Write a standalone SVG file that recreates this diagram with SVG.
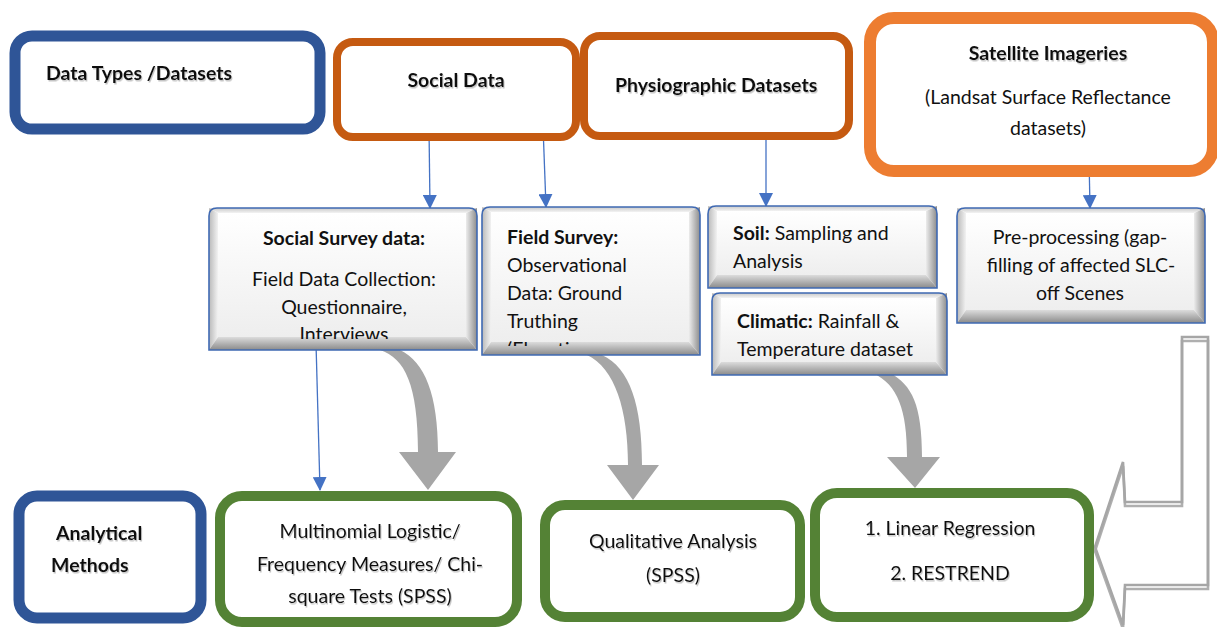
<svg xmlns="http://www.w3.org/2000/svg" width="1217" height="627" viewBox="0 0 1217 627">
  <style>
    text { font-family: Lato, "Noto Sans", "Liberation Sans", sans-serif; font-size: 19.5px; fill: #111; }
    .b { font-weight: bold; }
    .c { text-anchor: middle; }
    .sh { filter: url(#txtShadow); }
    .frame { fill: #fff; }
    .navy { stroke: #2F5597; stroke-width: 11; }
    .rust { stroke: #C55A11; stroke-width: 8; }
    .amber { stroke: #ED7D31; stroke-width: 12; }
    .green { stroke: #548235; stroke-width: 10; }
    .edge { fill: none; stroke: #3F69B3; stroke-width: 1.6; }
    .link { stroke: #4472C4; stroke-width: 1.3; fill: none; marker-end: url(#tri); }
    .curl { fill: #A6A6A6; }
    .uturn { fill: none; stroke: #A6A6A6; stroke-width: 2.6; stroke-linejoin: miter; }
  </style>
  <defs>
    <filter id="txtShadow" x="-10%" y="-30%" width="120%" height="160%">
      <feDropShadow dx="1" dy="1.5" stdDeviation="0.7" flood-color="#7f7f7f" flood-opacity="0.45"/>
    </filter>
    <marker id="tri" markerUnits="userSpaceOnUse" markerWidth="14" markerHeight="14" viewBox="0 0 14 14" refX="13" refY="7" orient="auto">
      <path d="M0,0 L14,7 L0,14 Z" fill="#4472C4"/>
    </marker>
    <linearGradient id="gTop" x1="0" y1="0" x2="0" y2="1">
      <stop offset="0" stop-color="#c9c9c9"/><stop offset="1" stop-color="#f3f3f3"/>
    </linearGradient>
    <linearGradient id="gLeft" x1="0" y1="0" x2="1" y2="0">
      <stop offset="0" stop-color="#b9b9b9"/><stop offset="1" stop-color="#f2f2f2"/>
    </linearGradient>
    <linearGradient id="gRight" x1="0" y1="0" x2="1" y2="0">
      <stop offset="0" stop-color="#ececec"/><stop offset="1" stop-color="#8c8c8c"/>
    </linearGradient>
    <linearGradient id="gBottom" x1="0" y1="0" x2="0" y2="1">
      <stop offset="0" stop-color="#dcdcdc"/><stop offset="1" stop-color="#8a8a8a"/>
    </linearGradient>
    <linearGradient id="gFace" x1="0" y1="0" x2="0" y2="1">
      <stop offset="0" stop-color="#ffffff"/><stop offset="1" stop-color="#eeeeee"/>
    </linearGradient>
    <clipPath id="clipSurvey"><rect x="218" y="213" width="248" height="126"/></clipPath>
    <clipPath id="clipField"><rect x="491" y="212" width="198" height="134"/></clipPath>
  </defs>

  <!-- curved block arrows and the return arrow, drawn under the boxes -->
  <g id="connectors">
    <path class="curl" d="M 380 350 C 405 358, 418 385, 418 452 L 399 452 L 428 490 L 456 452 L 438 452 C 438 395, 425 362, 400 350 Z"/>
    <path class="curl" d="M 587 355 C 615 368, 628 410, 628 465 L 607 465 L 633 500 L 659 465 L 642 465 C 642 405, 630 368, 602 355 Z"/>
    <path class="curl" d="M 873 373 C 898 385, 907 410, 907 457 L 887 457 L 915 488 L 940 457 L 922 457 C 922 405, 912 385, 890 373 Z"/>

    <g>
      <polygon class="uturn" transform="translate(0,4)" opacity="0.9" points="1182,337 1182,502 1125,502 1123,462 1095,547 1123,625 1125,585 1208,585 1208,337"/>
      <polygon class="uturn" points="1182,337 1182,502 1125,502 1123,462 1095,547 1123,625 1125,585 1208,585 1208,337"/>
    </g>

    <line class="link" x1="429" y1="128" x2="430" y2="208"/>
    <line class="link" x1="543" y1="126" x2="546" y2="207"/>
    <line class="link" x1="766" y1="140" x2="766" y2="206"/>
    <line class="link" x1="1089" y1="158" x2="1090" y2="208"/>
    <line class="link" x1="316" y1="343" x2="320" y2="490"/>
  </g>

  <!-- top row: data sources -->
  <g id="data-types">
    <rect class="frame navy" x="15" y="36" width="305" height="93" rx="17"/>
    <text class="b sh" x="46" y="80">Data Types /Datasets</text>
  </g>
  <g id="social-data">
    <rect class="frame rust" x="337" y="42" width="239" height="95" rx="16"/>
    <text class="b c sh" x="456" y="87">Social Data</text>
  </g>
  <g id="physiographic">
    <rect class="frame rust" x="584" y="36" width="265" height="100" rx="16"/>
    <text class="b sh" x="615" y="92">Physiographic Datasets</text>
  </g>
  <g id="satellite">
    <rect class="frame amber" x="870" y="18" width="343" height="153" rx="24"/>
    <text class="b c sh" x="1048" y="60">Satellite Imageries</text>
    <text class="c" x="1048" y="104">(Landsat Surface Reflectance</text>
    <text class="c" x="1048" y="135">datasets)</text>
  </g>

  <!-- middle row: bevelled collection steps -->
  <g id="social-survey">
    <polygon fill="url(#gTop)" points="209,208 477,208 466,213 218,213"/>
    <polygon fill="url(#gLeft)" points="209,208 218,213 218,337 209,350"/>
    <polygon fill="url(#gRight)" points="477,208 477,350 466,337 466,213"/>
    <polygon fill="url(#gBottom)" points="209,350 218,337 466,337 477,350"/>
    <rect fill="url(#gFace)" x="218" y="213" width="248" height="124"/>
    <g clip-path="url(#clipSurvey)">
      <text class="b c" x="344" y="245">Social Survey data:</text>
      <text class="c" x="344" y="286">Field Data Collection:</text>
      <text class="c" x="344" y="314">Questionnaire,</text>
      <text class="c" x="344" y="341">Interviews</text>
    </g>
    <path class="edge" d="M209,350 V216 Q209,208 217,208 H469 Q477,208 477,216 V350 Z"/>
  </g>
  <g id="field-survey">
    <polygon fill="url(#gTop)" points="482,207 700,207 689,212 491,212"/>
    <polygon fill="url(#gLeft)" points="482,207 491,212 491,342 482,355"/>
    <polygon fill="url(#gRight)" points="700,207 700,355 689,342 689,212"/>
    <polygon fill="url(#gBottom)" points="482,355 491,342 689,342 700,355"/>
    <rect fill="url(#gFace)" x="491" y="212" width="198" height="130"/>
    <g clip-path="url(#clipField)">
      <text class="b" x="507" y="244">Field Survey:</text>
      <text x="507" y="272">Observational</text>
      <text x="507" y="300">Data: Ground</text>
      <text x="507" y="328">Truthing</text>
      <text x="507" y="356">(Elevation</text>
    </g>
    <path class="edge" d="M482,355 V215 Q482,207 490,207 H692 Q700,207 700,215 V355 Z"/>
  </g>
  <g id="soil">
    <polygon fill="url(#gTop)" points="708,206 937,206 926,211 717,211"/>
    <polygon fill="url(#gLeft)" points="708,206 717,211 717,275 708,288"/>
    <polygon fill="url(#gRight)" points="937,206 937,288 926,275 926,211"/>
    <polygon fill="url(#gBottom)" points="708,288 717,275 926,275 937,288"/>
    <rect fill="url(#gFace)" x="717" y="211" width="209" height="64"/>
    <text x="733" y="240"><tspan class="b">Soil:</tspan> Sampling and</text>
    <text x="733" y="268">Analysis</text>
    <path class="edge" d="M708,288 V214 Q708,206 716,206 H929 Q937,206 937,214 V288 Z"/>
  </g>
  <g id="climatic">
    <polygon fill="url(#gTop)" points="712,293 947,293 936,298 721,298"/>
    <polygon fill="url(#gLeft)" points="712,293 721,298 721,362 712,375"/>
    <polygon fill="url(#gRight)" points="947,293 947,375 936,362 936,298"/>
    <polygon fill="url(#gBottom)" points="712,375 721,362 936,362 947,375"/>
    <rect fill="url(#gFace)" x="721" y="298" width="215" height="64"/>
    <text x="737" y="328"><tspan class="b">Climatic:</tspan> Rainfall &amp;</text>
    <text x="737" y="356">Temperature dataset</text>
    <path class="edge" d="M712,375 V301 Q712,293 720,293 H939 Q947,293 947,301 V375 Z"/>
  </g>
  <g id="pre-processing">
    <polygon fill="url(#gTop)" points="957,208 1205,208 1194,213 966,213"/>
    <polygon fill="url(#gLeft)" points="957,208 966,213 966,310 957,323"/>
    <polygon fill="url(#gRight)" points="1205,208 1205,323 1194,310 1194,213"/>
    <polygon fill="url(#gBottom)" points="957,323 966,310 1194,310 1205,323"/>
    <rect fill="url(#gFace)" x="966" y="213" width="228" height="97"/>
    <text class="c" x="1080" y="244">Pre-processing (gap-</text>
    <text class="c" x="1081" y="272">filling of affected SLC-</text>
    <text class="c" x="1080" y="300">off Scenes</text>
    <path class="edge" d="M957,323 V216 Q957,208 965,208 H1197 Q1205,208 1205,216 V323 Z"/>
  </g>

  <!-- bottom row: analytical methods -->
  <g id="analytical-methods">
    <rect class="frame navy" x="19" y="496" width="182" height="122" rx="18"/>
    <text class="b sh" x="56" y="540">Analytical</text>
    <text class="b sh" x="51" y="572">Methods</text>
  </g>
  <g id="multinomial">
    <rect class="frame green" x="220" y="496" width="297" height="126" rx="22"/>
    <text class="c sh" x="370" y="538">Multinomial Logistic/</text>
    <text class="c sh" x="370" y="571">Frequency Measures/ Chi-</text>
    <text class="c sh" x="370" y="603">square Tests (SPSS)</text>
  </g>
  <g id="qualitative">
    <rect class="frame green" x="545" y="505" width="255" height="112" rx="20"/>
    <text class="c sh" x="673" y="548">Qualitative Analysis</text>
    <text class="c sh" x="673" y="582">(SPSS)</text>
  </g>
  <g id="linear-regression">
    <rect class="frame green" x="815" y="493" width="274" height="124" rx="22"/>
    <text class="c sh" x="950" y="535">1. Linear Regression</text>
    <text class="c sh" x="950" y="580">2. RESTREND</text>
  </g>
</svg>
